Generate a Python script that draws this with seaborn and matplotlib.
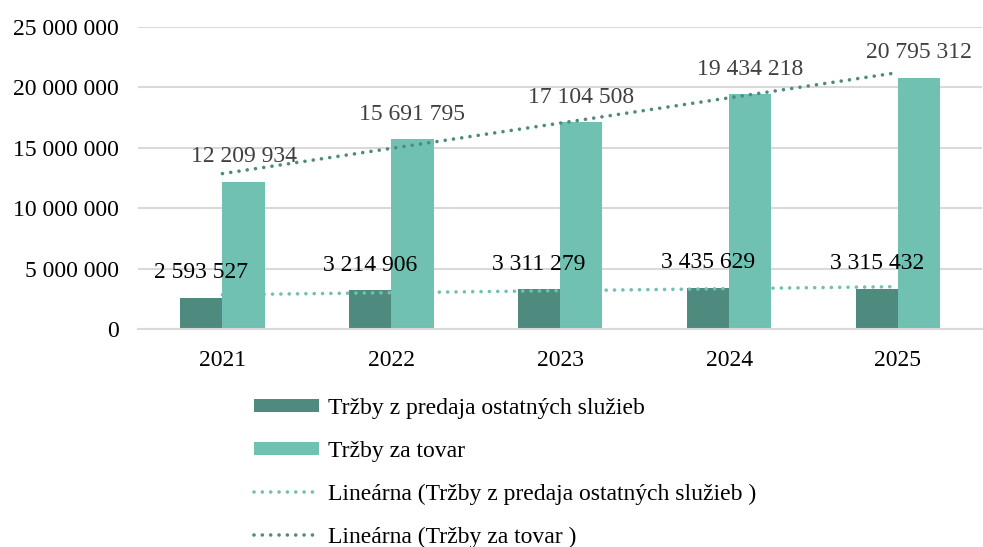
import numpy as np
import pandas as pd
import matplotlib
matplotlib.use("Agg")
import matplotlib.pyplot as plt
import seaborn as sns
from matplotlib.ticker import FuncFormatter
from matplotlib.patches import Patch
from matplotlib.lines import Line2D

years = ["2021", "2022", "2023", "2024", "2025"]
services = [2593527, 3214906, 3311279, 3435629, 3315432]
goods = [12209934, 15691795, 17104508, 19434218, 20795312]
series_names = ["Tržby z predaja ostatných služieb", "Tržby za tovar"]
trend_names = ["Lineárna (Tržby z predaja ostatných služieb )", "Lineárna (Tržby za tovar )"]
yticks = [0, 5000000, 10000000, 15000000, 20000000, 25000000]

dark = "#4f8a7f"
light = "#70c1b1"

sns.set_theme(style="white")
plt.rcParams["font.family"] = ["Liberation Serif", "DejaVu Serif"]
plt.rcParams["text.color"] = "#000000"

def fmt(v):
    return f"{int(round(v)):,}".replace(",", " ")

df = pd.DataFrame({
    "year": years * 2,
    "value": services + goods,
    "series": [series_names[0]] * len(years) + [series_names[1]] * len(years),
})

fig = plt.figure(figsize=(9.83, 5.47), dpi=100)
ax = fig.add_axes([0.1404, 0.3985, 0.859, 0.5521])

sns.barplot(data=df, x="year", y="value", hue="series", order=years,
            hue_order=series_names, palette=[dark, light], width=0.5,
            ax=ax, saturation=1, edgecolor="none", legend=False)

dot = (0, (0.01, 2.3))
xpos = np.arange(len(years))
sns.regplot(x=xpos, y=np.array(services, dtype=float), scatter=False, ci=None, ax=ax,
            line_kws=dict(color=light, lw=2.6, linestyle=dot, dash_capstyle="round"))
sns.regplot(x=xpos, y=np.array(goods, dtype=float), scatter=False, ci=None, ax=ax,
            line_kws=dict(color=dark, lw=2.6, linestyle=dot, dash_capstyle="round"))

# value labels
for cont, col in zip(ax.containers, ["#000000", "#404040"]):
    for bar in cont:
        h = bar.get_height()
        ax.annotate(fmt(h), (bar.get_x() + bar.get_width() / 2, h),
                    xytext=(0, 18), textcoords="offset points",
                    ha="center", va="center", fontsize=17, color=col)

ax.set_xlim(-0.5, len(years) - 0.5)
ax.set_ylim(0, 25000000)
ax.set_yticks(yticks)
ax.yaxis.set_major_formatter(FuncFormatter(lambda v, p: fmt(v)))
ax.set_xticks(xpos)
ax.set_xticklabels(years)
ax.tick_params(axis="both", length=0, labelsize=17, colors="#000000")
ax.tick_params(axis="x", pad=15)
ax.tick_params(axis="y", pad=14)
ax.set_xlabel("")
ax.set_ylabel("")
ax.grid(axis="y", color="#d9d9d9", lw=1.5)
ax.set_axisbelow(True)
for s in ["left", "right", "top"]:
    ax.spines[s].set_visible(False)
ax.spines["bottom"].set_color("#d9d9d9")
ax.spines["bottom"].set_linewidth(1.5)

handles = [
    Patch(facecolor=dark, edgecolor="none"),
    Patch(facecolor=light, edgecolor="none"),
    Line2D([0], [0], color=light, lw=2.6, linestyle=dot, dash_capstyle="round"),
    Line2D([0], [0], color=dark, lw=2.6, linestyle=dot, dash_capstyle="round"),
]
fig.legend(handles, series_names + trend_names, loc="upper left",
           bbox_to_anchor=(0.258, 0.272), frameon=False, fontsize=17,
           handlelength=2.75, handleheight=0.45, handletextpad=0.4,
           labelspacing=0.92, borderpad=0, borderaxespad=0,
           labelcolor="#000000")

fig.savefig("out.png", dpi=100)
